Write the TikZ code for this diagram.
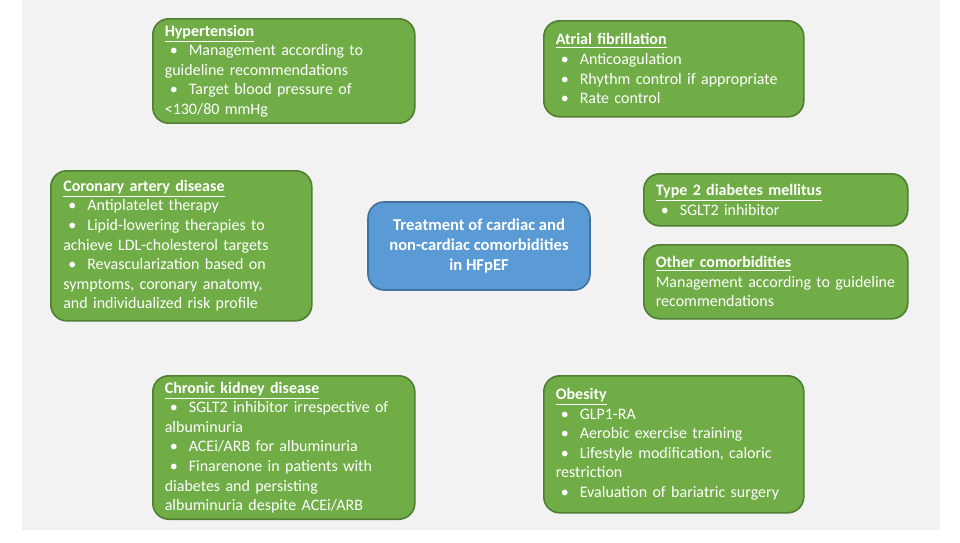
\documentclass[tikz,border=0pt]{standalone}
\usepackage{fontspec}
\setmainfont{Carlito}
\usetikzlibrary{positioning}
\definecolor{bgGray}{HTML}{F2F2F2}
\definecolor{boxFill}{HTML}{70AD47}
\definecolor{boxStroke}{HTML}{507E32}
\definecolor{hubFill}{HTML}{5B9BD5}
\definecolor{hubStroke}{HTML}{41719C}
\newcommand\bhead[1]{\noindent\textbf{\underline{#1}}}
\newcommand\bitem[1]{\par\hangindent=12pt\hangafter=1\noindent\hspace*{2.5pt}\makebox[9.5pt][l]{\textbullet}#1}
\begin{document}
\begin{tikzpicture}[x=0.5pt, y=-0.5pt,
    box/.style={rectangle, draw=boxStroke, fill=boxFill, rounded corners=8pt, line width=0.8pt,
      text=white, align=left, anchor=north west, inner xsep=6pt, inner ysep=3pt,
      font=\fontsize{8}{9.8}\selectfont},
    hub/.style={rectangle, draw=hubStroke, fill=hubFill, rounded corners=8pt, line width=0.8pt,
      text=white, align=center, font=\fontsize{8.3}{10.2}\selectfont\bfseries}
]
    % Background
    \useasboundingbox (0,0) rectangle (960,542);
    \fill[bgGray] (22,0) rectangle (940,530);

    % Hub
    \node[hub, minimum width=111pt, minimum height=44pt] (hub) at (479,246)
      {Treatment of cardiac and\\non-cardiac comorbidities\\in HFpEF};

    % Comorbidity boxes
    \node[box, minimum width=131pt, minimum height=49.5pt, text width=119pt] (htn) at (152,18)
      {\bhead{Hypertension}
       \bitem{Management according to\\guideline recommendations}
       \bitem{Target blood pressure of\\<130/80 mmHg}};
    \node[box, minimum width=130pt, minimum height=48pt, text width=118pt] (afib) at (543,20)
      {\bhead{Atrial fibrillation}
       \bitem{Anticoagulation}
       \bitem{Rhythm control if appropriate}
       \bitem{Rate control}};
    \node[box, minimum width=130.5pt, minimum height=75pt, text width=118pt] (cad) at (50,170)
      {\bhead{Coronary artery disease}
       \bitem{Antiplatelet therapy}
       \bitem{Lipid-lowering therapies to\\achieve LDL-cholesterol targets}
       \bitem{Revascularization based on\\symptoms, coronary anatomy,\\and individualized risk profile}};
    \node[box, minimum width=132pt, minimum height=26pt, text width=120pt] (t2dm) at (643,173)
      {\bhead{Type 2 diabetes mellitus}
       \bitem{SGLT2 inhibitor}};
    \node[box, minimum width=132pt, minimum height=37pt, text width=120pt] (other) at (643,244)
      {\bhead{Other comorbidities}\par\noindent
       Management according to guideline\\recommendations};
    \node[box, minimum width=131pt, minimum height=68.5pt, text width=119pt] (ckd) at (152,375)
      {\bhead{Chronic kidney disease}
       \bitem{SGLT2 inhibitor irrespective of\\albuminuria}
       \bitem{ACEi/ARB for albuminuria}
       \bitem{Finarenone in patients with\\diabetes and persisting\\albuminuria despite ACEi/ARB}};
    \node[box, minimum width=130pt, minimum height=68.5pt, text width=118pt] (obes) at (543,375)
      {\bhead{Obesity}
       \bitem{GLP1-RA}
       \bitem{Aerobic exercise training}
       \bitem{Lifestyle modification, caloric\\restriction}
       \bitem{Evaluation of bariatric surgery}};
\end{tikzpicture}
\end{document}
